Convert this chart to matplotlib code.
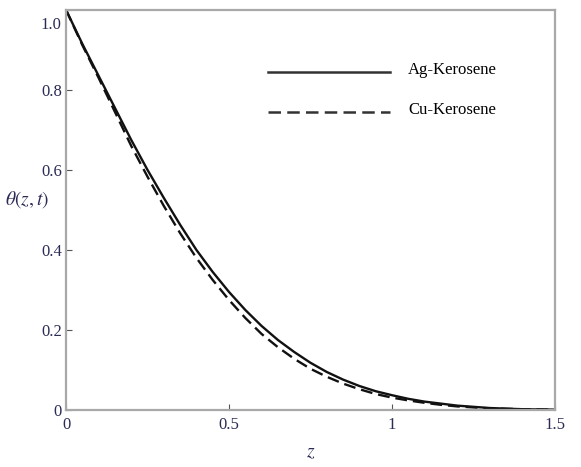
import matplotlib
matplotlib.use('Agg')
import matplotlib.pyplot as plt
import matplotlib.transforms as mtransforms
import numpy as np

# values
z = [0.0, 0.05, 0.1, 0.15, 0.2, 0.25, 0.3, 0.35, 0.4, 0.45, 0.5, 0.55, 0.6, 0.65, 0.7, 0.75,
     0.8, 0.85, 0.9, 0.95, 1.0, 1.05, 1.1, 1.15, 1.2, 1.25, 1.3, 1.35, 1.4, 1.45, 1.5]
theta_ag = [1.0, 0.915, 0.835, 0.755, 0.675, 0.60, 0.53, 0.463, 0.40, 0.345, 0.295, 0.25, 0.21, 0.175,
            0.145, 0.118, 0.095, 0.076, 0.06, 0.047, 0.037, 0.028, 0.021, 0.016, 0.011, 0.008, 0.005,
            0.0035, 0.002, 0.0015, 0.001]
theta_cu = [1.0, 0.912, 0.83, 0.745, 0.66, 0.583, 0.51, 0.442, 0.38, 0.325, 0.275, 0.23, 0.19, 0.157,
            0.128, 0.103, 0.083, 0.066, 0.052, 0.040, 0.031, 0.024, 0.018, 0.013, 0.009, 0.0065, 0.004,
            0.003, 0.002, 0.0015, 0.001]
labels = ['Ag-Kerosene', 'Cu-Kerosene']
xticks = [0, 0.5, 1, 1.5]
xticklabels = ['0', '0.5', '1', '1.5']
yticks = [0, 0.2, 0.4, 0.6, 0.8, 1.0]
yticklabels = ['0', '0.2', '0.4', '0.6', '0.8', '1.0']

plt.rcParams['font.family'] = ['Liberation Serif', 'DejaVu Serif']
plt.rcParams['mathtext.fontset'] = 'stix'

fig = plt.figure(figsize=(5.81, 4.67), dpi=100)
ax = fig.add_axes([0.1136, 0.122, 0.8417, 0.857])

ax.plot(z, theta_ag, color='#111111', lw=1.7, solid_capstyle='butt')
ax.plot(z, theta_cu, color='#111111', lw=1.7, dashes=(5, 2.5))

ax.set_xlim(0, 1.5)
ax.set_ylim(0, 1.0)
ax.set_xticks(xticks)
ax.set_xticklabels(xticklabels)
ax.set_yticks(yticks)
ax.set_yticklabels(yticklabels)
ax.tick_params(direction='in', length=4, width=0.8, color='#555555',
               labelsize=12, labelcolor='#2b2b55', pad=3)
ax.tick_params(axis='x', pad=5)

for s in ax.spines.values():
    s.set_color('#a8a8a8')
    s.set_linewidth(1.6)

# shift the top label down a little, like in the reference
lab = ax.get_yticklabels()[-1]
lab.set_transform(lab.get_transform() + mtransforms.ScaledTranslation(0, -13 / 100, fig.dpi_scale_trans))

# legend drawn by hand
ax.plot([0.413, 0.663], [0.845, 0.845], transform=ax.transAxes, color='#333333', lw=1.8)
ax.plot([0.413, 0.663], [0.745, 0.745], transform=ax.transAxes, color='#333333', lw=1.8, dashes=(5, 2.5))
ax.text(0.70, 0.85, labels[0], transform=ax.transAxes, fontsize=12, va='center')
ax.text(0.70, 0.75, labels[1], transform=ax.transAxes, fontsize=12, va='center')

fig.text(0.008, 0.572, r'$\theta(z,t)$', fontsize=14, color='#2b2b55', va='center')
fig.text(0.534, 0.02, r'$z$', fontsize=14, color='#2b2b55', ha='center')

fig.savefig('out.png', dpi=100)
